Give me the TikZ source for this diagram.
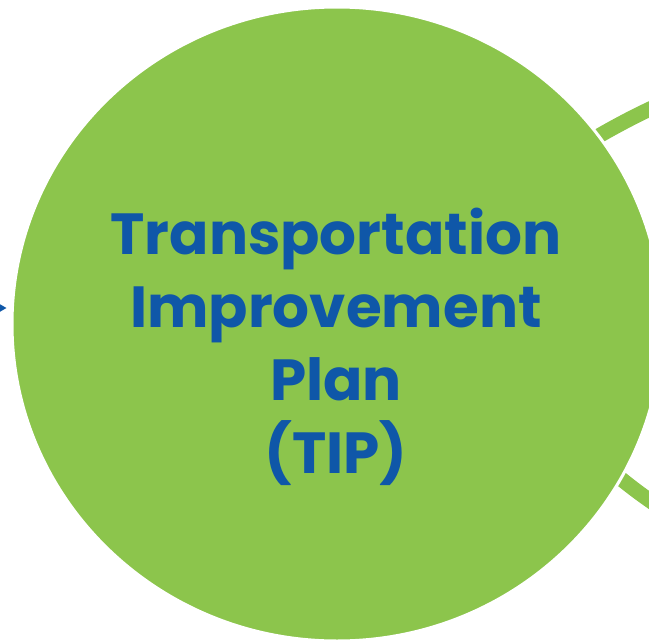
\documentclass[tikz,border=0pt]{standalone}
\usepackage{fontspec}
\setmainfont{Poppins}
\usetikzlibrary{shapes.geometric, arrows.meta}
\definecolor{tipgreen}{HTML}{8CC54C}
\definecolor{tipblue}{HTML}{0F57A8}
\tikzset{
  bubble/.style={ellipse, fill=tipgreen, draw=white, line width=3pt, inner sep=0pt},
  ring/.style={draw=tipgreen, line width=15pt},
  title/.style={text=tipblue, font=\fontsize{58}{73}\selectfont\bfseries, align=center},
  arrow/.style={-{Triangle[length=9pt,width=10pt]}, draw=tipblue, fill=tipblue, line width=1.5pt}
}

\begin{document}
\begin{tikzpicture}[x=1pt, y=-1pt]
    \useasboundingbox (0,0) rectangle (649,643);
    \clip (0,0) rectangle (649,643);

    % rings of the next bubble on the right
    \draw [ring] (560,160) .. controls (590,140) and (630,117) .. (670,100);
    \draw [ring] (590,452) .. controls (615,475) and (640,495) .. (670,514);

    \node (tip) [bubble, minimum width=650pt, minimum height=634pt] at (337,324) {};
    \node (tiptext) [title] at (336,347) {Transportation\\Improvement\\Plan\\(TIP)};

    \coordinate (prev) at (-40,308);
    \draw [arrow, shorten >=4pt] (prev) -- (tip.west |- prev);
\end{tikzpicture}
\end{document}
